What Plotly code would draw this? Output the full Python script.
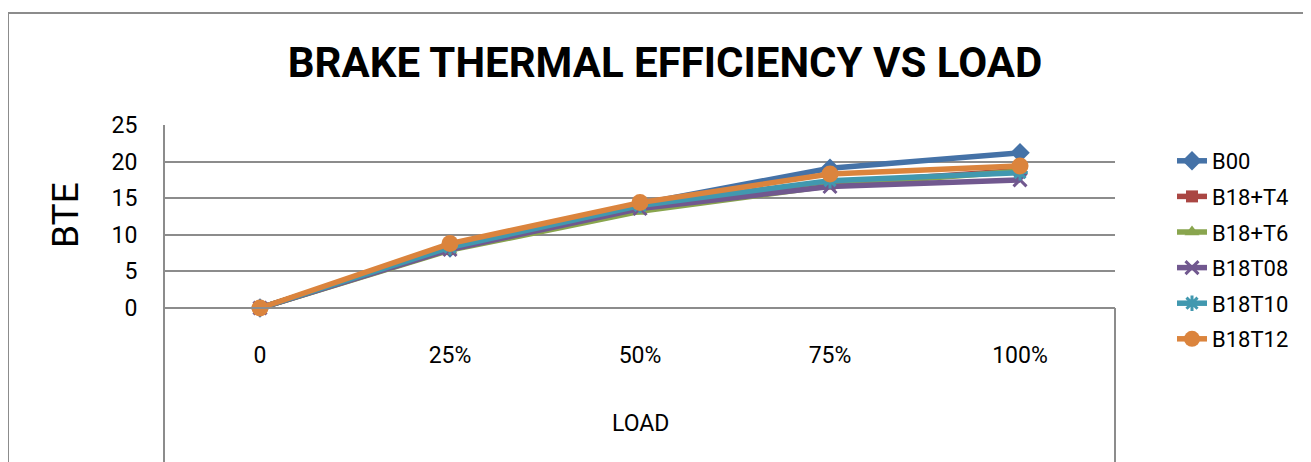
import plotly.graph_objects as go

# loads on the category axis
load = ["0", "25%", "50%", "75%", "100%"]

# brake thermal efficiency readings per fuel blend
b00 = [0, 8.2, 14.2, 19.1, 21.2]
b18_t4 = [0, 8.1, 13.8, 17.0, 18.8]
b18_t6 = [0, 7.9, 13.2, 16.7, 18.7]
b18t08 = [0, 8.0, 13.6, 16.6, 17.5]
b18t10 = [0, 8.3, 14.0, 17.4, 18.5]
b18t12 = [0, 8.8, 14.4, 18.3, 19.4]

names = ["B00", "B18+T4", "B18+T6", "B18T08", "B18T10", "B18T12"]
series = [b00, b18_t4, b18_t6, b18t08, b18t10, b18t12]
colors = ["#4572A7", "#AA4643", "#89A54E", "#71588F", "#4198AF", "#DB843D"]
symbols = ["diamond", "square", "triangle-up", "x-thin-open", "asterisk-open", "circle"]
sizes = [15, 12, 13, 13, 13, 17]

FONT = "Roboto, Liberation Sans, sans-serif"
GRID = "#8c8c8c"

W, H = 1311, 462
OFF = 8  # page body margin; positions below are measured on the screen


def fx(px):
    return px - OFF


def fy(py):
    return py - OFF


left, right, top = fx(165), fx(1115), fy(125)
zero_y = fy(308)
plot_w = right - left
plot_h = H - top
zero_pos = (H - zero_y) / plot_h
px_per_unit = (zero_y - top) / 25.0
ymin = -(H - zero_y) / px_per_unit


def paper_x(px):
    return (fx(px) - left) / plot_w


def paper_y(py):
    return (H - fy(py)) / plot_h


fig = go.Figure()
for name, vals, col, sym, sz in zip(names, series, colors, symbols, sizes):
    fig.add_trace(go.Scatter(
        x=load, y=vals, name=name, mode="lines+markers", legendgroup=name,
        line=dict(color=col, width=5.5),
        marker=dict(symbol=sym, size=sz, color=col,
                    line=dict(color=col, width=3 if "open" in sym else 0)),
    ))

fig.update_layout(
    width=W, height=H,
    margin=dict(l=left, r=W - right, t=top, b=0, autoexpand=False),
    paper_bgcolor="white", plot_bgcolor="white",
    font=dict(family=FONT, size=22, color="black"),
    title=dict(text="<b>BRAKE THERMAL EFFICIENCY VS LOAD</b>",
               font=dict(family=FONT, size=42, color="black"),
               xref="container", x=fx(665) / W, xanchor="center",
               yref="container", y=1 - fy(62) / H, yanchor="middle",
               automargin=False),
    showlegend=True,
    legend=dict(x=paper_x(1172), xanchor="left",
                y=paper_y(140), yanchor="top",
                font=dict(family=FONT, size=22),
                tracegroupgap=4, bgcolor="rgba(0,0,0,0)"),
    xaxis=dict(type="category", range=[-0.5, 4.5], showgrid=False,
               showline=True, linecolor=GRID, linewidth=2,
               anchor="free", position=zero_pos, ticks="", automargin=False,
               ticklabelstandoff=26, tickfont=dict(size=23)),
    yaxis=dict(range=[ymin, 25], tickvals=[0, 5, 10, 15, 20, 25],
               showgrid=True, gridcolor=GRID, gridwidth=2, zeroline=False,
               showline=True, linecolor=GRID, linewidth=2, automargin=False,
               ticks="", ticklabelstandoff=21, tickfont=dict(size=23)),
    annotations=[
        dict(text="LOAD", xref="paper", yref="paper", x=0.5,
             y=paper_y(423), showarrow=False, font=dict(size=23),
             xanchor="center", yanchor="middle"),
        dict(text="BTE", xref="paper", yref="paper",
             x=paper_x(65), y=paper_y(215),
             showarrow=False, textangle=-90, font=dict(size=37),
             xanchor="center", yanchor="middle"),
    ],
    shapes=[
        # outer chart border
        dict(type="rect", xref="paper", yref="paper",
             x0=paper_x(8), x1=1.5, y0=-0.2, y1=paper_y(13),
             line=dict(color=GRID, width=2), layer="below"),
        # right edge of plot area below the zero line
        dict(type="line", xref="paper", yref="paper", x0=1, x1=1,
             y0=0, y1=zero_pos, line=dict(color=GRID, width=2)),
    ],
)

fig.write_html("out.html")
